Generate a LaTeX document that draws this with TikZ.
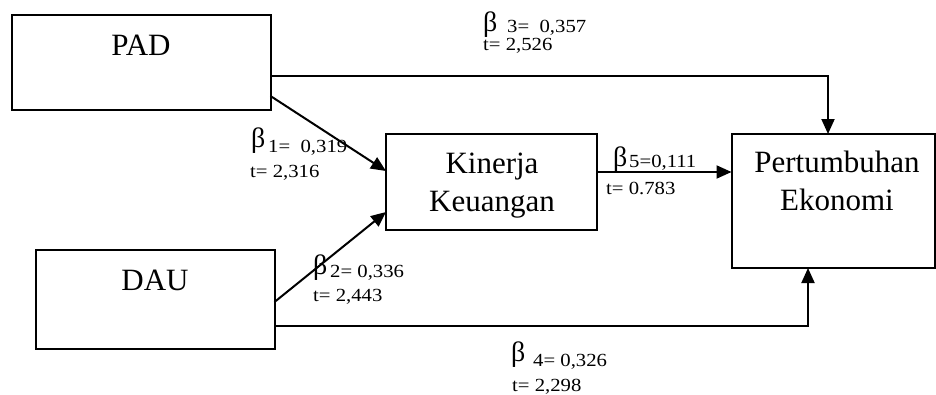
\documentclass[tikz,border=0pt]{standalone}
\usepackage{fontspec}
\setmainfont{Liberation Serif}
\newfontfamily\coeffont[FakeStretch=1.12]{Liberation Serif}
\usetikzlibrary{arrows.meta,calc}

\begin{document}
\begin{tikzpicture}[x=1pt,y=-1pt,
  varbox/.style={draw,line width=2pt,inner sep=0pt,outer sep=0pt},
  vartext/.style={font=\fontsize{31}{38}\selectfont,inner sep=0pt,anchor=base,align=center},
  coef/.style={font=\coeffont\fontsize{18.5}{18.5}\selectfont,inner sep=0pt,anchor=base west},
  betasym/.style={font=\fontsize{28}{28}\selectfont,inner sep=0pt,anchor=base west},
  link/.style={line width=2pt,-{Triangle[length=15pt,width=13pt]}}]
\useasboundingbox (0,0) rectangle (936,394);

% variable boxes
\node[varbox,minimum width=259pt,minimum height=95pt] (pad) at (141,62) {};
\node[varbox,minimum width=239pt,minimum height=99pt] (dau) at (155,299) {};
\node[varbox,minimum width=211pt,minimum height=96pt] (kin) at (491.5,182) {};
\node[varbox,minimum width=203pt,minimum height=134pt] (pert) at (833,201) {};

% box captions (base anchor = baseline of the last line)
\node[vartext] (padtxt) at (141,55) {PAD};
\node[vartext] (dautxt) at (155,290) {DAU};
\node[vartext] (kintxt) at (492,211.5) {Kinerja\\Keuangan};
\node[vartext] (perttxt) at (837,210.5) {Pertumbuhan\\Ekonomi};

% paths
\draw[link] ($(pad.east)+(0,14)$) -| ($(pert.north)+(-5,0)$);
\draw[link] ($(pad.east)+(0,34)$) -- ($(kin.west)+(0,-11)$);
\draw[link] ($(dau.east)+(0,3)$) -- ($(kin.west)+(0,30)$);
\draw[link] ($(dau.east)+(0,27)$) -| ($(pert.south)+(-25,0)$);
\draw[link] ($(kin.east)+(0,-10)$) -- ($(pert.west)+(0,-29)$);

% coefficients
\node[betasym] (b1) at (251,147) {β};
\node[coef] (b1v) at (268,152) {1=\ \ 0,319};
\node[coef] (t1) at (250,177) {t= 2,316};

\node[betasym] (b2) at (313,274) {β};
\node[coef] (b2v) at (330,277) {2= 0,336};
\node[coef] (t2) at (313,301) {t= 2,443};

\node[betasym] (b3) at (483,31) {β};
\node[coef] (b3v) at (507,32) {3=\ \ 0,357};
\node[coef] (t3) at (483,50) {t= 2,526};

\node[betasym] (b4) at (511,361) {β};
\node[coef] (b4v) at (533,366) {4= 0,326};
\node[coef] (t4) at (512,391) {t= 2,298};

\node[betasym] (b5) at (613,166) {β};
\node[coef] (b5v) at (629,167) {5=0,111};
\node[coef] (t5) at (606,194) {t= 0.783};
\end{tikzpicture}
\end{document}
